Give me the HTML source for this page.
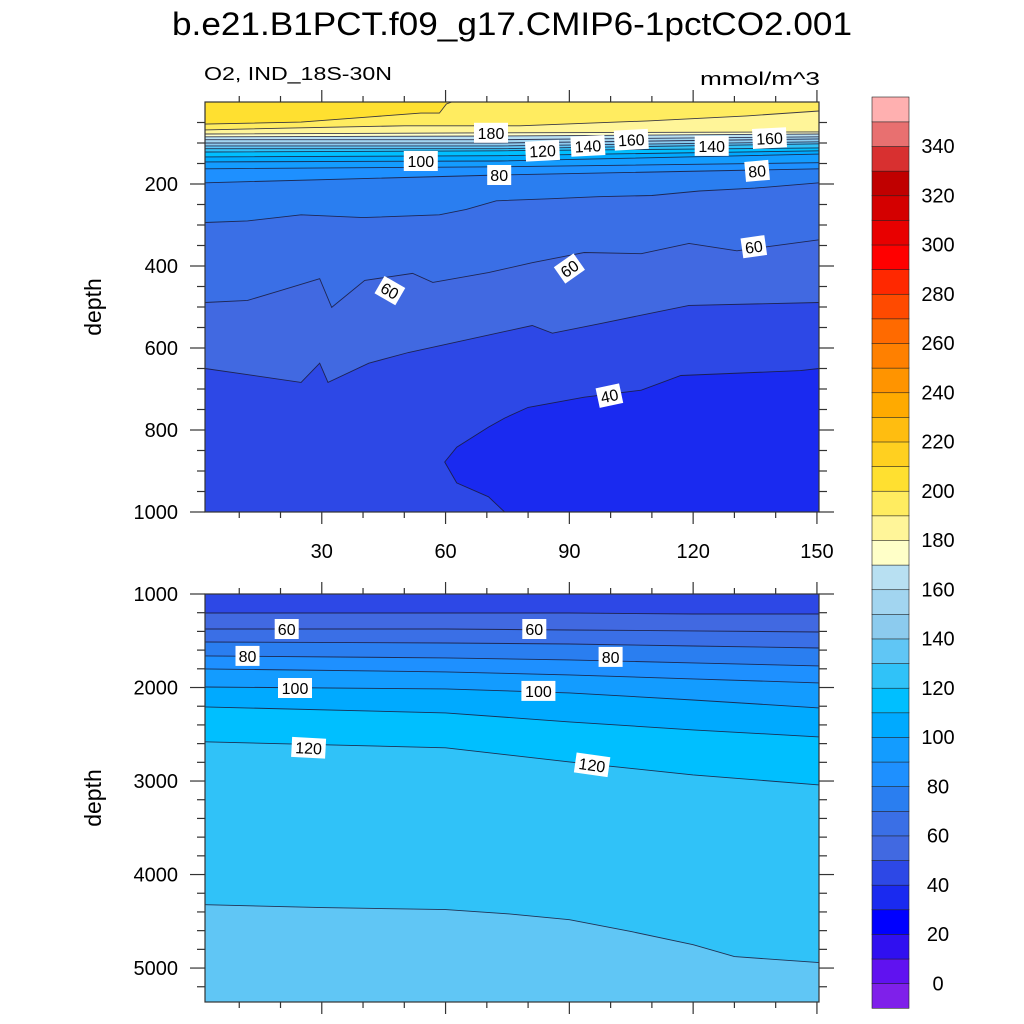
<!DOCTYPE html>
<html><head><meta charset="utf-8"><style>
html,body{margin:0;padding:0;background:#fff;}
svg{display:block;font-family:"Liberation Sans",sans-serif;}
</style></head><body>
<svg id="chart" width="1024" height="1024" viewBox="0 0 1024 1024" xmlns="http://www.w3.org/2000/svg">
<text x="512" y="35" text-anchor="middle" font-size="32" textLength="680" lengthAdjust="spacingAndGlyphs">b.e21.B1PCT.f09_g17.CMIP6-1pctCO2.001</text>
<text x="204" y="80" font-size="18" textLength="188" lengthAdjust="spacingAndGlyphs">O2, IND_18S-30N</text>
<text x="820" y="85" text-anchor="end" font-size="18" textLength="120" lengthAdjust="spacingAndGlyphs">mmol/m^3</text>
<text transform="translate(101,307) rotate(-90)" text-anchor="middle" font-size="23">depth</text>
<text transform="translate(101,798) rotate(-90)" text-anchor="middle" font-size="23">depth</text>
<g id="top"></g>
<g id="bot"></g>
<g id="cbar"></g>
</svg>
<script>
// colour levels
const levels = [0,10,20,30,40,50,60,70,80,90,100,110,120,130,140,150,160,170,180,190,200,210,220,230,240,250,260,270,280,290,300,310,320,330,340,350];
const bandColors = ["#7f20ea","#6012f0","#3010f0","#0000ff","#1a2af0","#2d48e6","#4169e1","#3a6fe6","#2a7ef0","#1e90ff","#139cff","#00aaff","#00bfff","#30c2f8","#60c6f5","#8ccbee","#a2d5f0","#b8e0f2","#ffffc8","#fff599","#ffec60","#ffe030","#ffd020","#ffbd10","#ffaa00","#ff9400","#ff8000","#ff6a00","#ff4a00","#ff2800","#ff0000","#e80000","#d40000","#c00000","#d83030","#e87070","#ffb0b0"];
const cbarLabels = [0,20,40,60,80,100,120,140,160,180,200,220,240,260,280,300,320,340];

// upper panel contours: [x(year), depth(m)]
const topLevels = [200,190,180,170,160,150,140,130,120,110,100,90,80,70,60,50,40];
const topTopValue = 205;
const topLines = [
 [[1.7,54],[25,49],[42,36],[54,27],[58.5,27],[60.2,5],[61.5,0],[150.5,0]],
 [[1.7,68],[25,63],[50,58],[78,58],[109,46],[133,34],[150.5,22]],
 [[1.7,78],[73,75],[150.5,73]],
 [[1.7,85],[73,83],[150.5,78]],
 [[1.7,92],[73,92],[150.5,85]],
 [[1.7,100],[73,100],[150.5,90]],
 [[1.7,107],[73,107],[150.5,97]],
 [[1.7,114],[73,114],[150.5,102]],
 [[1.7,122],[73,119],[150.5,112]],
 [[1.7,134],[73,131],[150.5,119]],
 [[1.7,146],[73,144],[150.5,127]],
 [[1.7,163],[73,158],[150.5,148]],
 [[1.7,197],[73,178],[150.5,163]],
 [[1.7,294],[12,290],[25,275],[40,282],[58.5,275],[65,262],[72.3,241],[85,236],[97,231],[110,228],[121.5,217],[135,210],[150.5,197]],
 [[1.7,489],[12,484],[20,460],[29.5,431],[32.4,501],[40.4,435],[52,418],[56.9,440],[70.4,416],[81,392],[93.6,367],[107.4,370],[119,345],[130.6,363],[150.5,336]],
 [[1.7,650],[25,684],[29.5,637],[31.5,684],[41.4,637],[51,611],[81,545],[85.9,564],[97.7,540],[119,496],[150.5,489]],
 [[74.3,1000],[70.4,963],[62.7,929],[59.8,878],[62.7,842],[70.4,793],[74.3,771],[80,745],[93.6,720],[107.4,703],[117,667],[146,655],[150.5,650]]
];
const topLabels = [["180",71,75,0],["100",54,144,0],["80",73,178,0],["120",83.5,119,-3],["140",94.5,107,-3],["160",105,92,-3],["140",124.5,107,0],["160",138.5,88,-3],["80",135.5,168,-5],["60",46.5,460,30],["60",90,406,-35],["60",134.7,353,-8],["40",99.7,716,-12]];

// lower panel contours
const botLevels = [50,60,70,80,90,100,110,120,130];
const botTopValue = 45;
const botLines = [
 [[1.7,1203],[60,1203],[90,1203],[120,1214],[150.5,1214]],
 [[1.7,1374],[60,1374],[90,1385],[120,1395],[150.5,1406]],
 [[1.7,1513],[60,1524],[90,1535],[120,1556],[150.5,1577]],
 [[1.7,1662],[60,1683],[90,1705],[120,1737],[150.5,1769]],
 [[1.7,1801],[60,1833],[90,1865],[120,1908],[150.5,1951]],
 [[1.7,1994],[60,2015],[90,2058],[120,2133],[150.5,2218]],
 [[1.7,2207],[60,2271],[90,2368],[120,2453],[150.5,2528]],
 [[1.7,2581],[60,2645],[90,2795],[120,2934],[150.5,3041]],
 [[1.7,4322],[30,4354],[60,4375],[75,4420],[90,4483],[105,4610],[120,4750],[130,4878],[150.5,4942]]
];
const botLabels = [["60",21.5,1374,0],["60",81.5,1374,0],["80",12,1662,0],["80",100,1673,0],["100",23.5,2005,0],["100",82.5,2036,0],["120",26.8,2645,3],["120",95.5,2826,8]];

const xTicksMajor = [30,60,90,120,150];
const topYTicks = [200,400,600,800,1000];
const botYTicks = [1000,2000,3000,4000,5000];

const NS="http://www.w3.org/2000/svg";
function mk(tag,attrs,parent){const e=document.createElementNS(NS,tag);for(const k in attrs)e.setAttribute(k,attrs[k]);parent.appendChild(e);return e;}
function colorFor(v){let i=0;while(i<levels.length&&v>=levels[i])i++;return bandColors[i];}

const X0=205,X1=819;
const xDom=[1.7,150.5];
function xs(v){return X0+(v-xDom[0])/(xDom[1]-xDom[0])*(X1-X0);}

function panel(g,name,Y0,Y1,dDom,lines,lvls,topVal,labels,yTicks,minorStep,showXLabels,belowSign){
  const ys=d=>Y0+(d-dDom[0])/(dDom[1]-dDom[0])*(Y1-Y0);
  const clipId="clip-"+name;
  const cp=mk("clipPath",{id:clipId},g);
  mk("rect",{x:X0,y:Y0,width:X1-X0,height:Y1-Y0},cp);
  const bg=mk("rect",{x:X0,y:Y0,width:X1-X0,height:Y1-Y0,fill:colorFor(topVal)},g);
  
  
  const fg=mk("g",{"clip-path":"url(#"+clipId+")"},g);
  lines.forEach((ln,i)=>{
    const below=colorFor(lvls[i]+5*belowSign);
    let pts=ln.map(p=>xs(p[0]).toFixed(1)+","+ys(p[1]).toFixed(1));
    const first=ln[0];
    pts.push(xs(xDom[1])+","+ys(dDom[1]));
    pts.push(xs(Math.min(first[0],xDom[0]))+","+ys(dDom[1]));
    if(first[1]<dDom[1]) pts.push(xs(xDom[0])+","+ys(dDom[1]));
    const poly=mk("polygon",{points:pts.join(" "),fill:below},fg);
    
    
  });
  lines.forEach((ln,i)=>{
    const pl=mk("polyline",{points:ln.map(p=>xs(p[0]).toFixed(1)+","+ys(p[1]).toFixed(1)).join(" "),fill:"none",stroke:"#1a1a3a","stroke-width":"0.9","stroke-opacity":"0.85"},fg);
    
    
  });
  labels.forEach(l=>{
    const lg=mk("g",{transform:"translate("+xs(l[1]).toFixed(1)+","+ys(l[2]).toFixed(1)+") rotate("+l[3]+")"},fg);
    
    
    const w=l[0].length*10+4;
    mk("rect",{x:-w/2,y:-10,width:w,height:20,fill:"#fff"},lg);
    const t=mk("text",{x:0,y:6,"text-anchor":"middle","font-size":"16",fill:"#000"},lg);
    t.textContent=l[0];
  });
  const fr=mk("rect",{x:X0,y:Y0,width:X1-X0,height:Y1-Y0,fill:"none",stroke:"#333","stroke-width":"1.2"},g);
  
  
  for(let v=10;v<=150;v+=10){
    const major=v%30===0, L=major?12:6, px=xs(v);
    mk("line",{x1:px,x2:px,y1:Y0,y2:Y0-L,stroke:"#333","stroke-width":"1.2"},g);
    mk("line",{x1:px,x2:px,y1:Y1,y2:Y1+L,stroke:"#333","stroke-width":"1.2"},g);
  }
  if(showXLabels) xTicksMajor.forEach(v=>{
    const t=mk("text",{x:xs(v),y:Y1+46,"text-anchor":"middle","font-size":"20"},g);
    
    
    t.textContent=v;
  });
  for(let d=Math.ceil(dDom[0]/minorStep)*minorStep; d<=dDom[1]; d+=minorStep){
    if(d<=dDom[0]&&name==='upper')continue;
    const major=yTicks.indexOf(d)>=0, L=major?15:8, py=ys(d);
    mk("line",{x1:X0,x2:X0-L,y1:py,y2:py,stroke:"#333","stroke-width":"1.2"},g);
    mk("line",{x1:X1,x2:X1+L,y1:py,y2:py,stroke:"#333","stroke-width":"1.2"},g);
  }
  yTicks.forEach(d=>{
    const t=mk("text",{x:178,y:ys(d)+7,"text-anchor":"end","font-size":"20"},g);
    
    
    t.textContent=d;
  });
}
panel(document.getElementById("top"),"upper",102,512,[0,1000],topLines,topLevels,topTopValue,topLabels,topYTicks,50,true,-1);
panel(document.getElementById("bot"),"lower",594,1002,[1000,5363],botLines,botLevels,botTopValue,botLabels,botYTicks,200,false,1);

// colorbar
const cb=document.getElementById("cbar");
const CB0=1008, CBtop=97, nb=bandColors.length, bh=(CB0-CBtop)/nb;
bandColors.forEach((c,i)=>{
  const r=mk("rect",{x:872,y:(CB0-(i+1)*bh).toFixed(2),width:37,height:(bh+0.3).toFixed(2),fill:c,stroke:"#222","stroke-width":"0.6"},cb);
  
  
});
cbarLabels.forEach(v=>{
  const i=levels.indexOf(v);
  const t=mk("text",{x:938,y:(CB0-(i+1)*bh+7).toFixed(1),"text-anchor":"middle","font-size":"20"},cb);
  
  
  t.textContent=v;
});
</script>
</body></html>
